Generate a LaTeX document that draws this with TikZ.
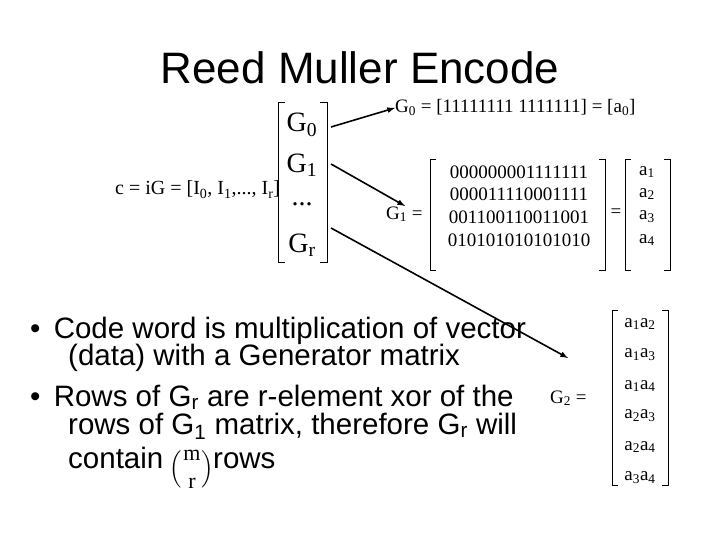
\documentclass[tikz,border=0pt]{standalone}
\usepackage{fontspec}
\setmainfont{Liberation Serif}
\newfontfamily\sans{Liberation Sans}
\usepackage{amsmath}
\begin{document}
\begin{tikzpicture}[x=1pt,y=-1pt,
  every node/.style={inner sep=0pt},
  ttl/.style={font=\sans\fontsize{44}{50}\selectfont},
  bul/.style={font=\sans\fontsize{29.5}{33}\selectfont, anchor=base west},
  eq/.style={font=\fontsize{20}{24}\selectfont, anchor=base west},
  big/.style={font=\fontsize{28}{32}\selectfont},
  sm/.style={font=\fontsize{19}{22}\selectfont},
  br/.style={line width=1pt},
  arr/.style={line width=1.6pt,-latex}]
\useasboundingbox (0,0) rectangle (720,540);
\node[ttl] (title) at (360,68) {Reed Muller Encode};
% left equation
\node[eq] (ceq) at (115,195) {c = iG = [I\textsubscript{0}, I\textsubscript{1},..., I\textsubscript{r}]};
\draw[br] (285,103) -- (278,103) -- (278,262) -- (285,262);
\draw[br] (320,103) -- (327,103) -- (327,262) -- (320,262);
\node[big] (g0) at (302,125) {G\textsubscript{0}};
\node[big] (g1) at (302,165) {G\textsubscript{1}};
\node[big] (gd) at (302,204) {...};
\node[big] (gr) at (302,245) {G\textsubscript{r}};
% G0 line
\node[sm,anchor=base west] (G0l) at (395,113) {G\textsubscript{0} = [11111111 1111111] = [a\textsubscript{0}]};
% G1
\node[sm,anchor=base west] (G1l) at (386,219) {G\textsubscript{1} =};
\draw[br] (436,160) -- (430,160) -- (430,270) -- (436,270);
\draw[br] (599,160) -- (605,160) -- (605,270) -- (599,270);
\node[sm] (r1) at (519,172) {000000001111111};
\node[sm] (r2) at (519,194) {000011110001111};
\node[sm] (r3) at (519,217) {001100110011001};
\node[sm] (r4) at (519,240) {010101010101010};
\node[sm] (eq2) at (616,213) {=};
\draw[br] (631,160) -- (625,160) -- (625,270) -- (631,270);
\draw[br] (664,160) -- (670,160) -- (670,270) -- (664,270);
\node[sm] (a1) at (647,172) {a\textsubscript{1}};
\node[sm] (a2) at (647,194) {a\textsubscript{2}};
\node[sm] (a3) at (647,217) {a\textsubscript{3}};
\node[sm] (a4) at (647,240) {a\textsubscript{4}};
% G2
\node[sm,anchor=base west] (G2l) at (550,403) {G\textsubscript{2} =};
\draw[br] (618,310) -- (612,310) -- (612,485) -- (618,485);
\draw[br] (662,310) -- (668,310) -- (668,485) -- (662,485);
\node[sm] (b1) at (640,324) {a\textsubscript{1}a\textsubscript{2}};
\node[sm] (b2) at (640,355) {a\textsubscript{1}a\textsubscript{3}};
\node[sm] (b3) at (640,386) {a\textsubscript{1}a\textsubscript{4}};
\node[sm] (b4) at (640,416) {a\textsubscript{2}a\textsubscript{3}};
\node[sm] (b5) at (640,447) {a\textsubscript{2}a\textsubscript{4}};
\node[sm] (b6) at (640,478) {a\textsubscript{3}a\textsubscript{4}};
% arrows
\coordinate (s0) at (331,127);
\draw[arr] (s0) -- (G0l.west);
\coordinate (s1) at (331,164);
\coordinate (e1) at (405,206);
\draw[arr] (s1) -- (e1);
\coordinate (s2) at (331,228);
\coordinate (e2) at (568,358);
\draw[arr] (s2) -- (e2);
% bullets
\node[bul] (l1) at (30,338) {•\hspace{0.45em}Code word is multiplication of vector};
\node[bul] (l2) at (68,365) {(data) with a Generator matrix};
\node[bul] (l3) at (30,406) {•\hspace{0.45em}Rows of G\textsubscript{r} are r-element xor of the};
\node[bul] (l4) at (68,434) {rows of G\textsubscript{1} matrix, therefore G\textsubscript{r} will};
\node[bul] (l5) at (68,468) {contain};
\node[font=\fontsize{22}{24}\selectfont] (bin) at (192,469) {$\Bigl(\genfrac{}{}{0pt}{0}{\text{m}}{\text{r}}\Bigr)$};
\node[bul] (l6) at (213,468) {rows};
\end{tikzpicture}
\end{document}
